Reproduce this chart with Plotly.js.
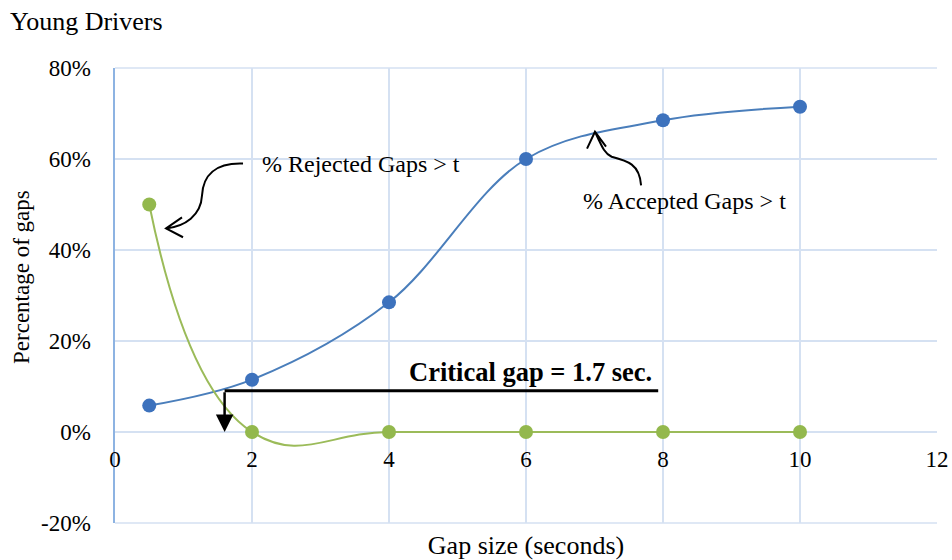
<!DOCTYPE html>
<html>
<head>
<meta charset="utf-8">
<script src="https://cdn.plot.ly/plotly-3.0.1.min.js"></script>
<style>html,body{margin:0;padding:0;background:#fff;}#chart{width:952px;height:560px;}</style>
</head>
<body>
<div id="chart"></div>
<script>
// ---- data ----
const gapSize = [0.5, 2, 4, 6, 8, 10];                  // seconds
const acceptedPct = [5.8, 11.5, 28.5, 60, 68.5, 71.5];  // % Accepted Gaps > t
const rejectedPct = [50, 0, 0, 0, 0, 0];                // % Rejected Gaps > t
const yTickVals = [-20, 0, 20, 40, 60, 80];
const xTickVals = [0, 2, 4, 6, 8, 10, 12];
const criticalGap = 1.6;      // crossing point of the two curves (x)
const criticalLevel = 9.05;   // crossing point (y, %)
const criticalLabel = 'Critical gap = 1.7 sec.';

const FONT = '"Liberation Serif", "Times New Roman", serif';
const BLUE = '#4a7ebb', BLUE_M = '#3d72bd';
const GREEN = '#9bbb59', GREEN_M = '#93b84d';
const GRID = '#d5e1f2';

const yMin = -20, yMax = 80;
const zeroPos = (0 - yMin) / (yMax - yMin);

const traces = [
  {x: gapSize, y: acceptedPct, type: 'scatter', mode: 'lines+markers', name: '% Accepted Gaps > t',
   line: {color: BLUE, width: 2, shape: 'spline', smoothing: 1},
   marker: {color: BLUE_M, size: 14}},
  {x: gapSize, y: rejectedPct, type: 'scatter', mode: 'lines+markers', name: '% Rejected Gaps > t',
   line: {color: GREEN, width: 2, shape: 'spline', smoothing: 1.3},
   marker: {color: GREEN_M, size: 14}}
];

// callout curves (data coordinates)
const rejectedCallout = 'M1.869,58.99 C1.46,59.21 1.285,56.36 1.27,51.98 C1.255,47.6 1.022,45.19 0.745,44.75 M0.978,47.18 L0.745,44.75 L0.993,42.8';
const acceptedCallout = 'M7.007,66.0 C7.12,62.3 7.15,61.2 7.25,60.5 C7.48,59.6 7.66,58.9 7.68,54.2 M6.891,62.28 L7.007,66.0 L7.168,62.72';

const layout = {
  width: 952, height: 560,
  margin: {l: 115, r: 15, t: 68, b: 37},
  paper_bgcolor: '#fff', plot_bgcolor: '#fff',
  showlegend: false,
  font: {family: FONT, color: '#000', size: 23},
  title: {text: 'Young Drivers', x: 0.0105, xanchor: 'left', xref: 'container',
          y: 0.962, yanchor: 'middle', yref: 'container', font: {family: FONT, size: 26, color: '#000'}},
  xaxis: {range: [0, 12], tickvals: xTickVals, showgrid: true, gridcolor: GRID, gridwidth: 1.5,
          zeroline: false, showline: false, anchor: 'free', position: zeroPos, ticks: '',
          ticklabelstandoff: 11, tickfont: {size: 23},
          title: {text: 'Gap size (seconds)', font: {size: 26}, standoff: 64}, automargin: false},
  yaxis: {range: [yMin, yMax], tickvals: yTickVals, ticktext: yTickVals.map(v => v + '%'),
          showgrid: true, gridcolor: GRID, gridwidth: 1.5, zeroline: false,
          showline: true, linecolor: '#8db3e2', linewidth: 2.5, ticks: '',
          ticklabelstandoff: 17, tickfont: {size: 23}, automargin: false},
  shapes: [
    // plot-area frame lines (top and bottom gridlines at the range ends)
    {type: 'line', xref: 'paper', yref: 'paper', x0: 0, x1: 1, y0: 1, y1: 1, layer: 'below',
     line: {color: GRID, width: 1.5}},
    {type: 'line', xref: 'paper', yref: 'paper', x0: 0, x1: 1, y0: 0, y1: 0, layer: 'below',
     line: {color: GRID, width: 1.5}},
    {type: 'line', xref: 'x', yref: 'y', x0: criticalGap, x1: 7.93, y0: criticalLevel, y1: criticalLevel,
     line: {color: '#000', width: 3}},
    {type: 'path', xref: 'x', yref: 'y', path: rejectedCallout, line: {color: '#000', width: 2}},
    {type: 'path', xref: 'x', yref: 'y', path: acceptedCallout, line: {color: '#000', width: 2}}
  ],
  annotations: [
    {text: 'Percentage of gaps', xref: 'paper', yref: 'paper', x: -0.113, y: 0.541,
     xanchor: 'center', yanchor: 'middle', textangle: -90, showarrow: false,
     font: {family: FONT, size: 23, color: '#000'}},
    {x: criticalGap, y: 0, ax: criticalGap, ay: criticalLevel, axref: 'x', ayref: 'y', xref: 'x', yref: 'y',
     text: '', showarrow: true, arrowhead: 2, arrowsize: 1.4, arrowwidth: 2.5, arrowcolor: '#000', standoff: 0},
    {x: 7.87, y: 13.2, xref: 'x', yref: 'y', xanchor: 'right', yanchor: 'middle', showarrow: false,
     text: '<b>' + criticalLabel + '</b>', font: {family: FONT, size: 26.5, color: '#000'}},
    {x: 2.117, y: 59.0, xref: 'x', yref: 'y', xanchor: 'left', yanchor: 'middle', showarrow: false,
     text: '% Rejected Gaps &gt; t', font: {family: FONT, size: 24, color: '#000'}},
    {x: 8.32, y: 50.7, xref: 'x', yref: 'y', xanchor: 'center', yanchor: 'middle', showarrow: false,
     text: '% Accepted Gaps &gt; t', font: {family: FONT, size: 24, color: '#000'}}
  ]
};

Plotly.newPlot('chart', traces, layout, {displayModeBar: false, staticPlot: true});
</script>
</body>
</html>
